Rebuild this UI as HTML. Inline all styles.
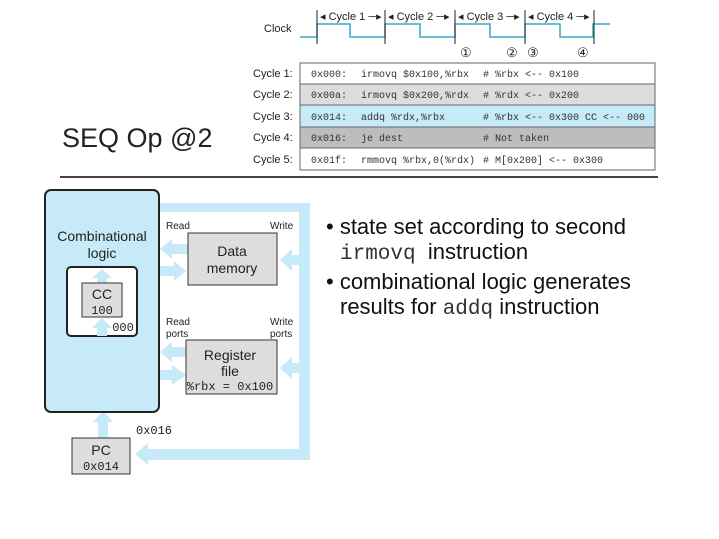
<!DOCTYPE html>
<html><head><meta charset="utf-8"><style>
body{margin:0;background:#fff;width:719px;height:539px;overflow:hidden;position:relative;font-family:"Liberation Sans",sans-serif}
.t{position:absolute;font-family:"Liberation Sans",sans-serif;color:#111;font-size:22px;white-space:nowrap}
.m{font-family:"Liberation Mono",monospace;color:#333;font-size:21px}
</style></head><body>
<svg width="719" height="539" style="position:absolute;left:0;top:0" font-family="Liberation Sans, sans-serif">
<polyline points="300,37 317,37 317,24 350,24 350,37 385,37 385,24 420,24 420,37 455,37 455,24 490,24 490,37 525,37 525,24 560,24 560,37 593,37 593,24 610,24" fill="none" stroke="#3aa8cc" stroke-width="1.5"/>
<g stroke="#222" stroke-width="1">
<line x1="317" y1="10" x2="317" y2="44"/><line x1="385" y1="10" x2="385" y2="44"/><line x1="455" y1="10" x2="455" y2="44"/><line x1="525" y1="10" x2="525" y2="44"/><line x1="594" y1="10" x2="594" y2="44"/>
</g>
<g font-size="11" fill="#222">
<text x="264" y="32">Clock</text>
<text x="320" y="20">◂ Cycle 1 ─▸</text><text x="388" y="20">◂ Cycle 2 ─▸</text><text x="458" y="20">◂ Cycle 3 ─▸</text><text x="528" y="20">◂ Cycle 4 ─▸</text>
<text x="460" y="57" font-size="13">①</text><text x="506" y="57" font-size="13">②</text><text x="527" y="57" font-size="13">③</text><text x="577" y="57" font-size="13">④</text>
</g>
<rect x="300" y="63" width="355" height="21" fill="#fff"/>
<rect x="300" y="84" width="355" height="21" fill="#ddd"/>
<rect x="300" y="105" width="355" height="22" fill="#c6eaf7"/>
<rect x="300" y="127" width="355" height="21" fill="#bdbdbd"/>
<rect x="300" y="148" width="355" height="22" fill="#fff"/>
<g stroke="#666" fill="none"><rect x="300" y="63" width="355" height="107"/><line x1="300" y1="84" x2="655" y2="84"/><line x1="300" y1="105" x2="655" y2="105"/><line x1="300" y1="127" x2="655" y2="127"/><line x1="300" y1="148" x2="655" y2="148"/></g>
<g font-size="11" fill="#222"><text x="253" y="77">Cycle 1:</text><text x="253" y="98">Cycle 2:</text><text x="253" y="120">Cycle 3:</text><text x="253" y="141">Cycle 4:</text><text x="253" y="163">Cycle 5:</text></g>
<g font-size="10" fill="#333" font-family="Liberation Mono, monospace">
<text x="311" y="77">0x000:</text><text x="361" y="77">irmovq $0x100,%rbx</text><text x="483" y="77">#&#160;%rbx&#160;&lt;--&#160;0x100</text>
<text x="311" y="98">0x00a:</text><text x="361" y="98">irmovq $0x200,%rdx</text><text x="483" y="98">#&#160;%rdx&#160;&lt;--&#160;0x200</text>
<text x="311" y="120">0x014:</text><text x="361" y="120">addq %rdx,%rbx</text><text x="483" y="120">#&#160;%rbx&#160;&lt;--&#160;0x300&#160;CC&#160;&lt;--&#160;000</text>
<text x="311" y="141">0x016:</text><text x="361" y="141">je dest</text><text x="483" y="141">#&#160;Not&#160;taken</text>
<text x="311" y="163">0x01f:</text><text x="361" y="163">rmmovq %rbx,0(%rdx)</text><text x="483" y="163">#&#160;M[0x200]&#160;&lt;--&#160;0x300</text>
</g>
<line x1="60" y1="177" x2="658" y2="177" stroke="#444" stroke-width="2"/>
<g fill="#c6eaf7">
<rect x="158" y="203" width="152" height="9"/>
<rect x="299" y="203" width="11" height="257"/>
<rect x="145" y="449" width="165" height="11"/>
<polygon points="135,454 148,443 148,465"/>
<rect x="290" y="255" width="10" height="10"/><polygon points="280,260 292,249 292,271"/>
<rect x="290" y="363" width="10" height="10"/><polygon points="280,368 292,357 292,379"/>
<rect x="170" y="244" width="18" height="10"/><polygon points="160,249 172,239 172,259"/>
<rect x="160" y="266" width="16" height="10"/><polygon points="186,271 174,261 174,281"/>
<rect x="170" y="347" width="16" height="10"/><polygon points="160,352 172,342 172,362"/>
<rect x="160" y="370" width="14" height="10"/><polygon points="186,375 172,365 172,385"/>
<rect x="98" y="415" width="10" height="23"/><polygon points="103,411 93,422 113,422"/>
</g>
<rect x="45" y="190" width="114" height="222" rx="6" fill="#c6eaf7" stroke="#222" stroke-width="2"/>
<rect x="67" y="267" width="70" height="69" rx="4" fill="#fff" stroke="#222" stroke-width="2"/>
<g fill="#c6eaf7"><rect x="97" y="326" width="10" height="10"/><polygon points="102,318 92,328 112,328"/><rect x="97" y="276" width="10" height="8"/><polygon points="102,269 92,278 112,278"/></g>
<rect x="82" y="283" width="40" height="34" fill="#ddd" stroke="#333"/>
<rect x="188" y="233" width="89" height="52" fill="#ddd" stroke="#333"/>
<rect x="186" y="340" width="91" height="54" fill="#ddd" stroke="#333"/>
<rect x="72" y="438" width="58" height="36" fill="#ddd" stroke="#333"/>
<g fill="#222" text-anchor="middle">
<text x="102" y="241" font-size="14">Combinational</text><text x="102" y="258" font-size="14">logic</text>
<text x="102" y="299" font-size="14">CC</text>
<text x="102" y="314" font-size="12" font-family="Liberation Mono, monospace">100</text>
<text x="123" y="331" font-size="12" font-family="Liberation Mono, monospace">000</text>
<text x="232" y="256" font-size="14">Data</text><text x="232" y="273" font-size="14">memory</text>
<text x="230" y="360" font-size="14">Register</text><text x="230" y="376" font-size="14">file</text>
<text x="230" y="390" font-size="12" font-family="Liberation Mono, monospace">%rbx = 0x100</text>
<text x="101" y="455" font-size="14">PC</text>
<text x="101" y="470" font-size="12" font-family="Liberation Mono, monospace">0x014</text>
</g>
<g fill="#222" font-size="10">
<text x="166" y="229">Read</text><text x="270" y="229">Write</text>
<text x="166" y="325">Read</text><text x="166" y="337">ports</text>
<text x="270" y="325">Write</text><text x="270" y="337">ports</text>
</g>
<text x="136" y="434" font-size="12" font-family="Liberation Mono, monospace" fill="#222">0x016</text>
</svg>
<div class="t" style="left:62px;top:123px;font-size:27px;color:#222">SEQ Op @2</div>
<div class="t" style="left:326px;top:214px">• state set according to second</div>
<div class="t" style="left:340px;top:239px"><span class="m">irmovq</span>&nbsp; instruction</div>
<div class="t" style="left:326px;top:269px">• combinational logic generates</div>
<div class="t" style="left:340px;top:294px">results for <span class="m">addq</span> instruction</div>
</body></html>
